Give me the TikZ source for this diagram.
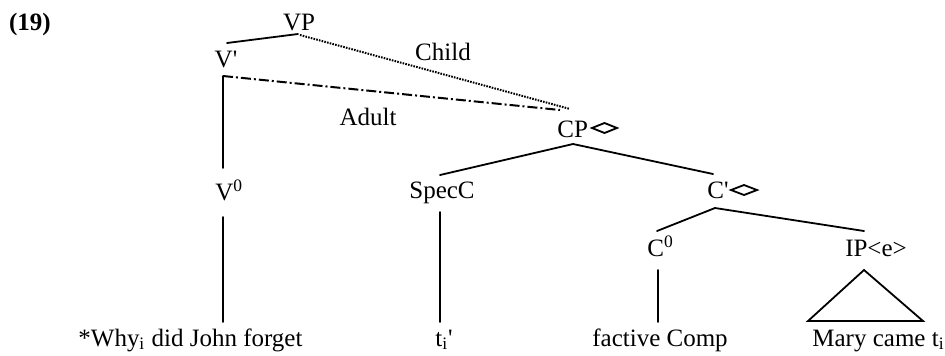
\documentclass[tikz,border=0pt]{standalone}
\usepackage{fontspec}
\setmainfont{Liberation Serif}
\begin{document}
\begin{tikzpicture}[x=0.5pt,y=-0.5pt,
  lbl/.style={inner sep=0pt,font=\fontsize{12.5}{15}\selectfont},
  branch/.style={line width=0.9pt,line cap=round},
  childline/.style={line width=1pt,dash pattern=on 0.8pt off 0.6pt},
  adultline/.style={line width=1pt,dash pattern=on 5pt off 1.5pt on 1pt off 1.5pt},
  dmd/.style={line width=0.9pt,line join=miter}]
\useasboundingbox (0,0) rectangle (945,355);
% labels
\node[lbl,anchor=base,font=\fontsize{12.5}{15}\selectfont\bfseries] (ex) at (30,30) {(19)};
\node[lbl,anchor=base] (vp) at (299,30) {VP};
\node[lbl,anchor=base] (vbar) at (226,67) {V\textquotesingle};
\node[lbl,anchor=base] (child) at (443,60) {Child};
\node[lbl,anchor=base] (adult) at (368,125) {Adult};
\node[lbl,anchor=base west] (cp) at (557,137) {CP};
\node[lbl,anchor=base] (specc) at (442,198) {SpecC};
\node[lbl,anchor=base west] (cbar) at (707,198) {C\textquotesingle};
\node[lbl,anchor=base west] (v0) at (215,200) {V\textsuperscript{0}};
\node[lbl,anchor=base west] (c0) at (647,256) {C\textsuperscript{0}};
\node[lbl,anchor=base] (ip) at (876,256) {IP<e>};
\node[lbl,anchor=base west] (w1) at (78,346) {*Why\textsubscript{i} did John forget};
\node[lbl,anchor=base west] (w2) at (435,346) {t\textsubscript{i}\textquotesingle};
\node[lbl,anchor=base] (w3) at (660,346) {factive Comp};
\node[lbl,anchor=base west] (w4) at (812,346) {Mary came t\textsubscript{i}};
% diamonds
\draw[dmd] (592,128) -- (604.5,123) -- (617,128) -- (604.5,133) -- cycle;
\draw[dmd] (731,190) -- (744,185) -- (757,190) -- (744,195) -- cycle;
% connector end points
\coordinate (vp-b) at (298,34);
\coordinate (vbar-t) at (227,43);
\coordinate (vp-d) at (300,35);
\coordinate (cp-t1) at (570,109);
\coordinate (vbar-c) at (223,76);
\coordinate (cp-t2) at (560,110);
\coordinate (v0-t) at (223,168);
\coordinate (v0-b) at (223,217);
\coordinate (w1-t) at (223,322);
\coordinate (cp-b) at (573,144);
\coordinate (specc-t) at (440,175);
\coordinate (cbar-t) at (713,174);
\coordinate (specc-b) at (440,212);
\coordinate (w2-t) at (440,322);
\coordinate (cbar-b) at (715,208);
\coordinate (c0-t) at (657,231);
\coordinate (ip-t) at (864,231);
\coordinate (c0-b) at (658,270);
\coordinate (w3-t) at (658,322);
\coordinate (tri-a) at (864,270);
\coordinate (tri-l) at (808,321);
\coordinate (tri-r) at (923,321);
% connectors
\draw[branch] (vp-b) -- (vbar-t);
\draw[childline] (vp-d) -- (cp-t1);
\draw[adultline] (vbar-c) -- (cp-t2);
\draw[branch] (vbar-c) -- (v0-t);
\draw[branch] (v0-b) -- (w1-t);
\draw[branch] (specc-t) -- (cp-b) -- (cbar-t);
\draw[branch] (specc-b) -- (w2-t);
\draw[branch] (c0-t) -- (cbar-b) -- (ip-t);
\draw[branch] (c0-b) -- (w3-t);
\draw[branch,line join=miter] (tri-a) -- (tri-l) -- (tri-r) -- cycle;
\end{tikzpicture}
\end{document}
